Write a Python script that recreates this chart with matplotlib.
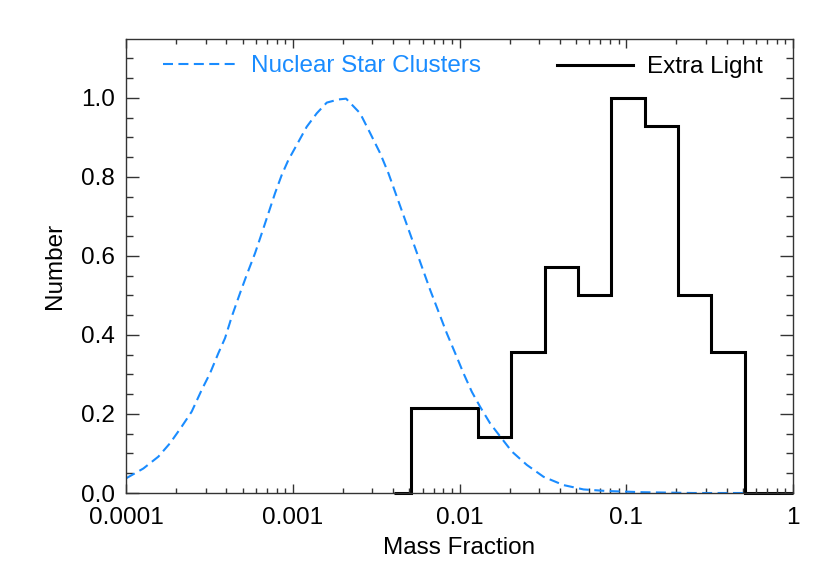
import matplotlib
matplotlib.use('Agg')
import matplotlib.pyplot as plt
import numpy as np
from matplotlib.ticker import FixedLocator, FuncFormatter, MultipleLocator

plt.rcParams['font.family'] = ['Liberation Sans', 'DejaVu Sans']

# Extra Light histogram (log10 mass fraction bin edges, normalised counts)
hist_log_edges = [-2.39, -2.29, -2.09, -1.89, -1.69, -1.49, -1.29, -1.09,
                  -0.89, -0.69, -0.49, -0.29, 0.0]
hist_values = [0, 3/14, 3/14, 2/14, 5/14, 8/14, 7/14, 14/14,
               13/14, 7/14, 5/14, 0]

# Nuclear Star Clusters curve
nsc_log_x = [-4.0, -3.896, -3.806, -3.736, -3.666, -3.606, -3.546, -3.496,
             -3.446, -3.406, -3.366, -3.316, -3.276, -3.226, -3.186, -3.146,
             -3.106, -3.066, -3.026, -2.976, -2.916, -2.856, -2.796, -2.726,
             -2.68, -2.596, -2.536, -2.476, -2.426, -2.376, -2.326, -2.276,
             -2.226, -2.176, -2.126, -2.076, -2.026, -1.976, -1.926, -1.876,
             -1.816, -1.756, -1.686, -1.596, -1.496, -1.376, -1.256, -1.116,
             -0.9, -0.6, -0.3]
nsc_y = [0.037, 0.062, 0.092, 0.126, 0.168, 0.206, 0.261, 0.303,
         0.354, 0.392, 0.446, 0.506, 0.552, 0.607, 0.657, 0.708,
         0.759, 0.805, 0.843, 0.881, 0.927, 0.961, 0.988, 0.996,
         0.998, 0.961, 0.911, 0.860, 0.809, 0.750, 0.691, 0.632,
         0.573, 0.514, 0.459, 0.404, 0.354, 0.303, 0.256, 0.218,
         0.176, 0.143, 0.105, 0.071, 0.041, 0.020, 0.009, 0.005,
         0.002, 0.0, 0.0]

x_ticks = [1e-4, 1e-3, 1e-2, 1e-1, 1]
x_tick_labels = ['0.0001', '0.001', '0.01', '0.1', '1']

blue = '#1a8cff'
fs = 17.5

fig = plt.figure(figsize=(8.3, 5.73), dpi=100)
ax = fig.add_axes([126/830, 80/573, 667/830, 454/573])

ax.plot(10 ** np.asarray(nsc_log_x), nsc_y, color=blue, lw=1.5,
        dashes=(4.8, 2.6))
ax.stairs(hist_values, 10 ** np.asarray(hist_log_edges), baseline=None,
          color='black', lw=2.2, clip_on=False)

ax.set_xscale('log')
ax.set_xlim(1e-4, 1)
ax.set_ylim(0, 1.149)

ax.xaxis.set_major_locator(FixedLocator(x_ticks))
ax.xaxis.set_major_formatter(FuncFormatter(
    lambda v, p: x_tick_labels[x_ticks.index(v)] if v in x_ticks else ''))
ax.yaxis.set_major_locator(MultipleLocator(0.2))
ax.yaxis.set_minor_locator(MultipleLocator(0.05))
ax.yaxis.set_major_formatter(FuncFormatter(lambda v, p: '%.1f' % v))

ax.tick_params(which='both', direction='in', top=True, right=True,
               labelsize=fs, color='#333333', width=1)
ax.tick_params(axis='x', which='major', length=6.5, pad=10)
ax.tick_params(axis='x', which='minor', length=3.6)
ax.tick_params(axis='y', which='major', length=9.4, pad=8)
ax.tick_params(axis='y', which='minor', length=4.8)
for s in ax.spines.values():
    s.set_linewidth(1)
    s.set_color('#333333')

# lift the 0.0 label so it sits on the axis like the original
ax.yaxis.get_major_ticks()[0].label1.set_va('baseline')

ax.set_xlabel('Mass Fraction', fontsize=fs)
ax.set_ylabel('Number', fontsize=fs)
ax.xaxis.set_label_coords(0.5, -0.097)
ax.yaxis.set_label_coords(-0.09, 0.5)

# legend entries
ax.plot([0.0555, 0.171], [0.945, 0.945], transform=ax.transAxes,
        color=blue, lw=1.5, dashes=(4.8, 2.6))
ax.text(0.187, 0.945, 'Nuclear Star Clusters', transform=ax.transAxes,
        color=blue, fontsize=fs, va='center_baseline', ha='left')
ax.plot([0.646, 0.760], [0.943, 0.943], transform=ax.transAxes,
        color='black', lw=2.2)
ax.text(0.781, 0.943, 'Extra Light', transform=ax.transAxes,
        color='black', fontsize=fs, va='center_baseline', ha='left')

fig.savefig('out.png', dpi=100)
